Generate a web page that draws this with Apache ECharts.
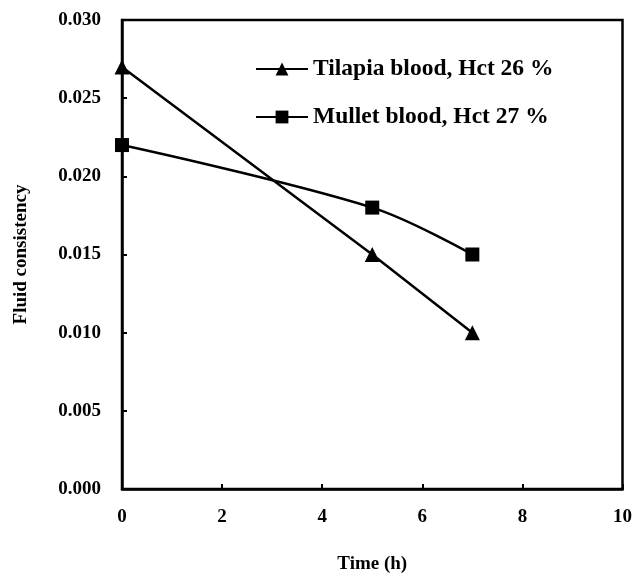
<!DOCTYPE html>
<html>
<head>
<meta charset="utf-8">
<script src="https://cdn.jsdelivr.net/npm/echarts@6/dist/echarts.min.js"></script>
<style>
html, body { margin: 0; padding: 0; background: #fff; }
#chart { width: 635px; height: 579px; }
</style>
</head>
<body>
<div id="chart"></div>
<script>
// 数据
var timeH = [0, 5, 7];
var tilapia = [0.027, 0.015, 0.010];
var mullet = [0.022, 0.018, 0.015];
var seriesNames = ['Tilapia blood, Hct 26 %', 'Mullet blood, Hct 27 %'];

function pairs(xs, ys) {
    return xs.map(function (x, i) { return [x, ys[i]]; });
}

(function(){
    var myChart = echarts.init(document.getElementById("chart"));
    var font = 'Liberation Serif';
    var option = {
        animation: false,
        grid: {
            left: 122,
            top: 20,
            right: 12,
            bottom: 84,
            show: true,
            borderColor: '#000',
            borderWidth: 2.5
        },
        legend: {
            orient: 'vertical',
            left: 250,
            top: 52,
            itemWidth: 52,
            itemHeight: 16,
            itemGap: 24,
            textStyle: {
                fontFamily: font,
                fontWeight: 'bold',
                fontSize: 23.5,
                color: '#000'
            },
            data: seriesNames
        },
        xAxis: {
            type: 'value',
            min: 0,
            max: 10,
            interval: 2,
            name: 'Time (h)',
            nameLocation: 'middle',
            nameGap: 66,
            nameTextStyle: { fontFamily: font, fontWeight: 'bold', fontSize: 19, color: '#000' },
            axisLine: { lineStyle: { color: '#000', width: 2.5 } },
            axisTick: { inside: true, length: 5, lineStyle: { color: '#000', width: 2 } },
            axisLabel: { fontFamily: font, fontWeight: 'bold', fontSize: 19, color: '#000', margin: 19 },
            splitLine: { show: false }
        },
        yAxis: {
            type: 'value',
            min: 0,
            max: 0.03,
            interval: 0.005,
            name: 'Fluid consistency',
            nameLocation: 'middle',
            nameGap: 91,
            nameTextStyle: { fontFamily: font, fontWeight: 'bold', fontSize: 19, color: '#000' },
            axisLine: { lineStyle: { color: '#000', width: 2.5 } },
            axisTick: { inside: true, length: 5, lineStyle: { color: '#000', width: 2 } },
            axisLabel: {
                fontFamily: font, fontWeight: 'bold', fontSize: 19, color: '#000', margin: 21,
                formatter: function (v) { return v.toFixed(3); }
            },
            splitLine: { show: false }
        },
        series: [
            {
                name: seriesNames[0],
                type: 'line',
                symbol: 'triangle',
                symbolSize: 15,
                itemStyle: { color: '#000' },
                lineStyle: { color: '#000', width: 2.5 },
                data: pairs(timeH, tilapia)
            },
            {
                name: seriesNames[1],
                type: 'line',
                symbol: 'rect',
                symbolSize: 14,
                smooth: 0.35,
                itemStyle: { color: '#000' },
                lineStyle: { color: '#000', width: 2.5 },
                data: pairs(timeH, mullet)
            }
        ]
    };
    myChart.setOption(option);
})();
</script>
</body>
</html>
